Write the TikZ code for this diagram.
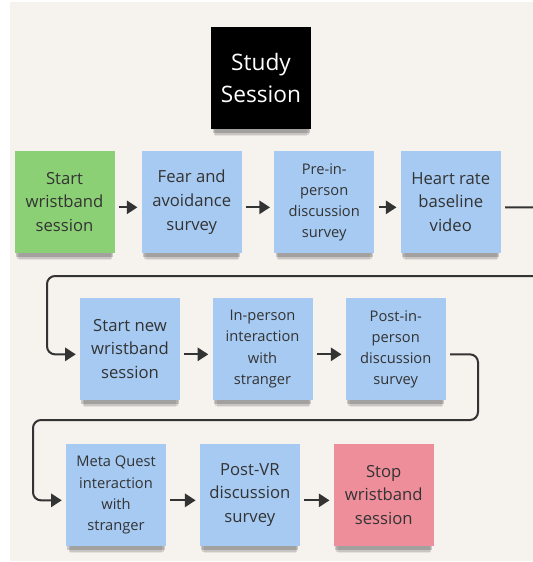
\documentclass[tikz,border=0pt]{standalone}
\usepackage{fontspec}
\setmainfont{Open Sans}
\usetikzlibrary{arrows.meta, positioning, shadows}

\definecolor{boardbg}{RGB}{246,243,238}
\definecolor{stickygreen}{RGB}{140,208,118}
\definecolor{stickyblue}{RGB}{166,202,242}
\definecolor{stickyred}{RGB}{238,142,155}
\definecolor{inkgray}{RGB}{51,51,51}

\begin{document}
\begin{tikzpicture}[
    x=0.75pt, y=-0.75pt,
    note/.style={rectangle, minimum width=75pt, minimum height=76.5pt, inner sep=2pt, align=center, text=inkgray,
        general shadow={fill=black, opacity=.07, shadow yshift=-9pt, shadow scale=.92},
        general shadow={fill=black, opacity=.12, shadow yshift=-6.5pt, shadow scale=.95},
        general shadow={fill=black, opacity=.18, shadow yshift=-4pt, shadow scale=.97},
        font=\fontsize{12.5}{17.8}\selectfont},
    small/.style={font=\fontsize{11}{15.8}\selectfont},
    startnote/.style={note, fill=stickygreen},
    stepnote/.style={note, fill=stickyblue},
    stopnote/.style={note, fill=stickyred},
    titlenote/.style={note, fill=black, text=white, font=\fontsize{17}{24}\selectfont},
    arrow/.style={line width=1.5pt, draw=inkgray, -{Triangle[length=8pt,width=10pt]}, shorten >=3pt, shorten <=3pt},
    wrap/.style={arrow, rounded corners=6pt}
]

% Board
\useasboundingbox (0,0) rectangle (533,562);
\clip (0,0) rectangle (533,562);
\fill[boardbg] (10,2) rectangle (533,561);

% Title
\node[titlenote] (title) at (261,78) {Study\\Session};

% First row
\node[startnote] (start) at (64.5,202) {Start\\wristband\\session};
\node[stepnote, right=20pt of start] (fear) {Fear and\\avoidance\\survey};
\node[stepnote, small, right=24pt of fear] (prein) {Pre-in-\\person\\discussion\\survey};
\node[stepnote, right=19.5pt of prein] (heart) {Heart rate\\baseline\\video};

% Second row
\node[stepnote] (startnew) at (130,349) {Start new\\wristband\\session};
\node[stepnote, small, right=24pt of startnew] (inperson) {In-person\\interaction\\with\\stranger};
\node[stepnote, small, right=24.5pt of inperson] (postin) {Post-in-\\person\\discussion\\survey};

% Third row
\node[stepnote, small] (meta) at (116,495) {Meta Quest\\interaction\\with\\stranger};
\node[stepnote, right=25pt of meta] (postvr) {Post-VR\\discussion\\survey};
\node[stopnote, right=25pt of postvr] (stop) {Stop\\wristband\\session};

% Arrows
\draw[arrow] ([yshift=-4pt]start.east) -- ([yshift=-4pt]fear.west);
\draw[arrow] ([yshift=-4pt]fear.east) -- ([yshift=-4pt]prein.west);
\draw[arrow] ([yshift=-4pt]prein.east) -- ([yshift=-4pt]heart.west);
\draw[arrow] ([yshift=-4pt]startnew.east) -- ([yshift=-4pt]inperson.west);
\draw[arrow] ([yshift=-4pt]inperson.east) -- ([yshift=-4pt]postin.west);
\draw[arrow] ([yshift=-4pt]meta.east) -- ([yshift=-4pt]postvr.west);
\draw[arrow] ([yshift=-4pt]postvr.east) -- ([yshift=-4pt]stop.west);

% Row wraps
\coordinate (wrapA) at (47,276);
\coordinate (wrapB) at (33,420);
\draw[wrap] ([yshift=-4pt]heart.east) -- ++(50,0) |- (wrapA) |- ([yshift=-4pt]startnew.west);
\draw[wrap] ([yshift=-4pt]postin.east) -- ++(32,0) |- (wrapB) |- ([yshift=-4pt]meta.west);

\end{tikzpicture}
\end{document}
